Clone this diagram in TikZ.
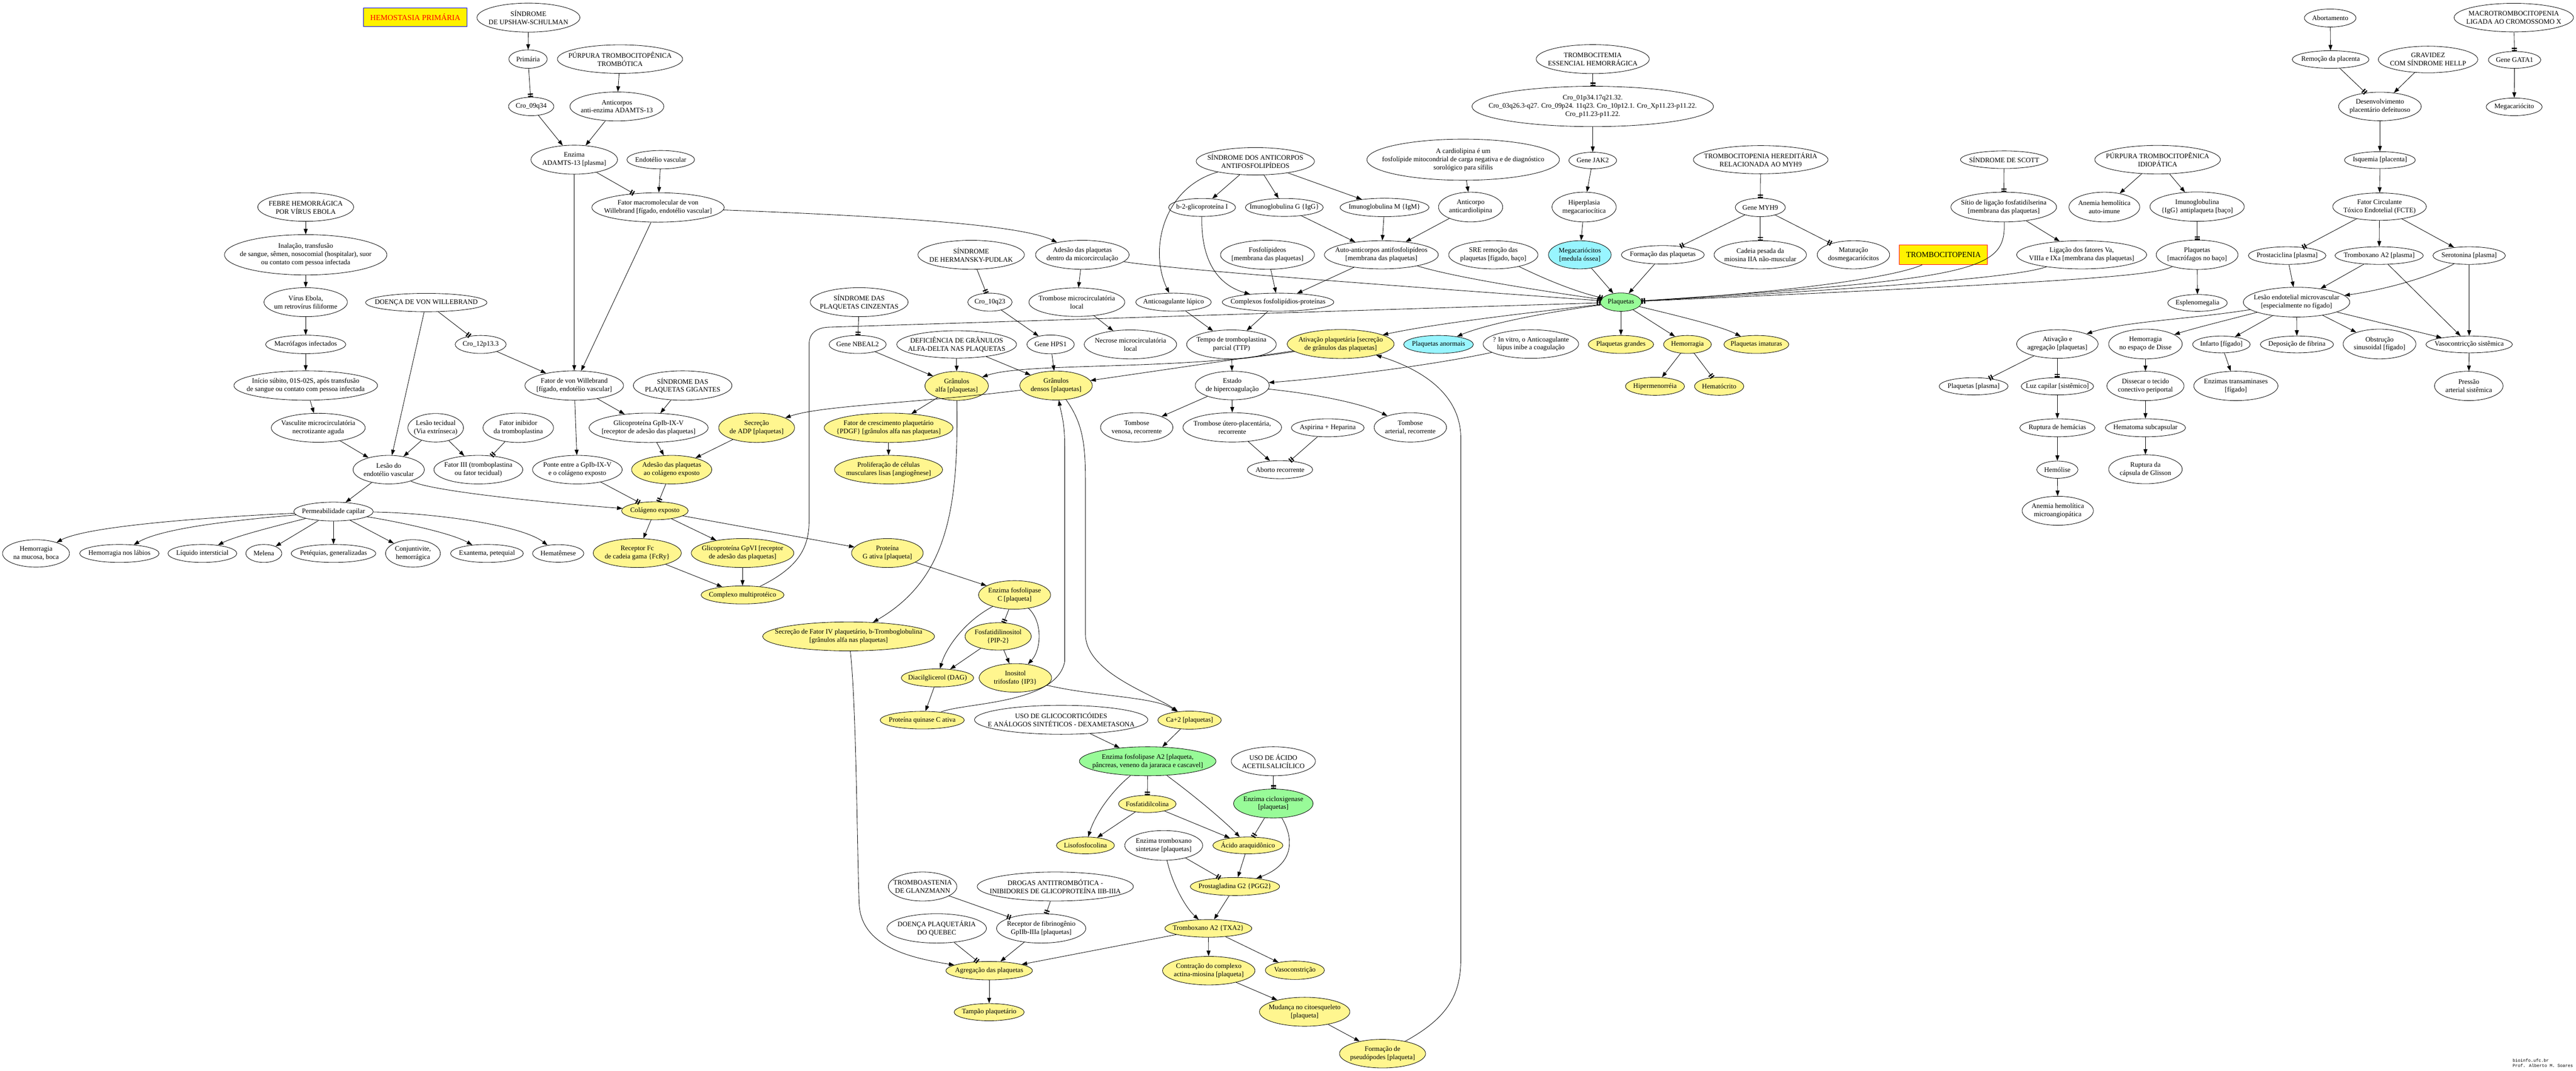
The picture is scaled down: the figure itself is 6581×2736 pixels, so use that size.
\documentclass[tikz,border=0pt]{standalone}
\usepackage{fontspec}
\setmainfont{Liberation Serif}
\newfontfamily\notefont{Liberation Mono}
\usetikzlibrary{shapes.geometric,arrows.meta}
\definecolor{khak}{HTML}{FFF68F}
\definecolor{pgrn}{HTML}{98FB98}
\definecolor{pcyn}{HTML}{98F5FF}
\newcommand{\nd}[7][nw]{\node[#1,minimum width=#5pt,minimum height=#6pt] (#2) at (#3,#4) {#7};}
\begin{document}
\begin{tikzpicture}[x=1pt,y=-1pt,
  base/.style={draw,line width=1.1pt,font=\fontsize{17.5}{21}\selectfont,align=center},
  nw/.style={base,ellipse,inner sep=-3000pt},
  ny/.style={nw,fill=khak},
  ng/.style={nw,fill=pgrn},
  nc/.style={nw,fill=pcyn},
  bx/.style={draw,rectangle,line width=1.1pt,fill=yellow,inner sep=0pt,font=\fontsize{20}{24}\selectfont},
  ar/.style={line width=1.1pt,-{Triangle[length=14pt,width=10pt]}},
  ttee/.style={line width=1.1pt,-{Rectangle[length=3pt,width=13pt,sep=3pt]Rectangle[length=3pt,width=13pt]}}]
\fill[white] (0,0) rectangle (6581,2736);
\useasboundingbox (0,0) rectangle (6581,2736);

% ---------- boxes
\node[bx,draw=blue,text=red,minimum width=264pt,minimum height=48pt] (hp) at (1061,44) {HEMOSTASIA PRIMÁRIA};
\node[bx,draw=red,minimum width=225pt,minimum height=50pt] (tcp) at (4965,651) {TROMBOCITOPENIA};

% ---------- left (Ebola, von Willebrand)
\nd{febre}{781}{529}{245}{73}{FEBRE HEMORRÁGICA\\POR VÍRUS EBOLA}
\nd{inal}{781}{651}{415}{103}{Inalação, transfusão\\de sangue, sêmen, nosocomial (hospitalar), suor\\ou contato com pessoa infectada}
\nd{virus}{781}{772}{213}{74}{Vírus Ebola,\\um retrovírus filiforme}
\nd{macro}{781}{880}{205}{47}{Macrófagos infectados}
\nd{inicio}{781}{985}{367}{75}{Início súbito, 01S-02S, após transfusão\\de sangue ou contato com pessoa infectada}
\nd{vasc}{813}{1093}{240}{74}{Vasculite microcirculatória\\necrotizante aguda}
\nd{dvw}{1089}{773}{310}{47}{DOENÇA DE VON WILLEBRAND}
\nd{cro12}{1228}{880}{130}{46}{Cro\_12p13.3}
\nd{lestec}{1113}{1093}{142}{73}{Lesão tecidual\\(Via extrínseca)}
\nd{fatinib}{1324}{1093}{180}{75}{Fator inibidor\\da tromboplastina}
\nd{lesend}{993}{1200}{182}{73}{Lesão do\\endotélio vascular}
\nd{f3}{1222}{1200}{227}{73}{Fator III (tromboplastina\\ou fator tecidual)}
\nd{perm}{852}{1307}{203}{48}{Permeabilidade capilar}
\nd{s1}{92}{1414}{171}{70}{Hemorragia\\na mucosa, boca}
\nd{s2}{305}{1414}{203}{46}{Hemorragia nos lábios}
\nd{s3}{517}{1414}{176}{46}{Líquido intersticial}
\nd{s4}{674}{1414}{92}{46}{Melena}
\nd{s5}{852}{1414}{216}{46}{Petéquias, generalizadas}
\nd{s6}{1055}{1414}{140}{70}{Conjuntivite,\\hemorrágica}
\nd{s7}{1244}{1414}{186}{46}{Exantema, petequial}
\nd{s8}{1426}{1414}{131}{45}{Hematêmese}

% ---------- upper left-middle
\nd{ups}{1350}{45}{263}{74}{SÍNDROME\\DE UPSHAW-SCHULMAN}
\nd{prim}{1349}{151}{98}{47}{Primária}
\nd{ptt}{1584}{151}{320}{73}{PÚRPURA TROMBOCITOPÊNICA\\TROMBÓTICA}
\nd{cro09}{1357}{272}{116}{47}{Cro\_09q34}
\nd{antic}{1576}{272}{240}{74}{Anticorpos\\anti-enzima ADAMTS-13}
\nd{adamts}{1467}{408}{221}{74}{Enzima\\ADAMTS-13 [plasma]}
\nd{endvasc}{1688}{408}{173}{47}{Endotélio vascular}
\nd{fmvw}{1681}{530}{338}{75}{Fator macromolecular de von\\Willebrand [fígado, endotélio vascular]}
\nd{fvw}{1467}{985}{252}{75}{Fator de von Willebrand\\{}[fígado, endotélio vascular]}
\nd{spg}{1744}{985}{252}{75}{SÍNDROME DAS\\PLAQUETAS GIGANTES}
\nd{gpib}{1657}{1093}{304}{75}{Glicoproteína GpIb-IX-V\\{}[receptor de adesão das plaquetas]}
\nd[ny]{adp}{1933}{1093}{194}{75}{Secreção\\de ADP [plaquetas]}
\nd[ny]{pdgf}{2270}{1093}{329}{75}{Fator de crescimento plaquetário\\\{PDGF\} [grânulos alfa nas plaquetas]}
\nd{ponte}{1475}{1200}{229}{73}{Ponte entre a GpIb-IX-V\\e o colágeno exposto}
\nd[ny]{adcol}{1716}{1200}{205}{73}{Adesão das plaquetas\\ao colágeno exposto}
\nd[ny]{prolif}{2270}{1200}{276}{73}{Proliferação de células\\musculares lisas [angiogênese]}
\nd[ny]{colag}{1673}{1305}{170}{46}{Colágeno exposto}
\nd[ny]{fc}{1628}{1413}{225}{74}{Receptor Fc\\de cadeia gama \{FcRy\}}
\nd[ny]{gpvi}{1897}{1413}{262}{74}{Glicoproteína GpVI [receptor\\de adesão das plaquetas]}
\nd[ny]{protg}{2267}{1413}{183}{74}{Proteína\\G ativa [plaqueta]}
\nd[ny]{compl}{1897}{1520}{212}{46}{Complexo multiprotéico}
\nd[ny]{f4}{2168}{1626}{439}{74}{Secreção de Fator IV plaquetário, b-Tromboglobulina\\{}[grânulos alfa nas plaquetas]}
\nd[ny]{plc}{2592}{1520}{184}{73}{Enzima fosfolipase\\C [plaqueta]}
\nd[ny]{pip2}{2550}{1626}{169}{70}{Fosfatidilinositol\\\{PIP-2\}}
\nd[ny]{ip3}{2594}{1732}{185}{73}{Inositol\\trifosfato \{IP3\}}
\nd[ny]{dag}{2395}{1732}{185}{46}{Diacilglicerol (DAG)}
\nd[ny]{pkc}{2356}{1840}{215}{45}{Proteína quinase C ativa}
\nd{nbeal}{2191}{880}{146}{46}{Gene NBEAL2}
\nd{defic}{2444}{880}{306}{70}{DEFICIÊNCIA DE GRÂNULOS\\ALFA-DELTA NAS PLAQUETAS}
\nd[ny]{galfa}{2444}{986}{162}{74}{Grânulos\\alfa [plaquetas]}
\nd{cinz}{2195}{772}{250}{74}{SÍNDROME DAS\\PLAQUETAS CINZENTAS}
\nd{hps}{2481}{651}{272}{74}{SÍNDROME\\DE HERMANSKY-PUDLAK}
\nd{admic}{2765}{651}{239}{74}{Adesão das plaquetas\\dentro da micorcirculação}
\nd{cro10}{2529}{772}{113}{46}{Cro\_10q23}
\nd{tmic}{2751}{772}{245}{73}{Trombose microcirculatória\\local}
\nd{hps1}{2684}{880}{121}{48}{Gene HPS1}
\nd{nmic}{2888}{880}{236}{74}{Necrose microcirculatória\\local}
\nd[ny]{gdens}{2698}{985}{185}{74}{Grânulos\\densos [plaquetas]}

% ---------- antiphospholipid & centre
\nd{saaf}{3207}{412}{302}{70}{SÍNDROME DOS ANTICORPOS\\ANTIFOSFOLIPÍDEOS}
\nd{b2}{3071}{530}{171}{46}{b-2-glicoproteína I}
\nd{igg}{3281}{530}{199}{46}{Imunoglobulina G \{IgG\}}
\nd{igm}{3537}{530}{227}{47}{Imunoglobulina M \{IgM\}}
\nd{fosfl}{3238}{651}{240}{74}{Fosfolípideos\\{}[membrana das plaquetas]}
\nd{autoac}{3529}{651}{291}{72}{Auto-anticorpos antifosfolipídeos\\{}[membrana das plaquetas]}
\nd{cardio}{3738}{408}{492}{105}{A cardiolipina é um\\fosfolípide mitocondrial de carga negativa e de diagnóstico\\sorológico para sífilis}
\nd{acard}{3757}{529}{164}{76}{Anticorpo\\anticardiolipina}
\nd{sre}{3815}{651}{228}{72}{SRE remoção das\\plaquetas [fígado, baço]}
\nd[nc]{mega}{4036}{651}{160}{72}{Megacariócitos\\{}[medula óssea]}
\nd{hiper}{4047}{529}{164}{76}{Hiperplasia\\megacariocítica}
\nd{jak2}{4069}{410}{122}{42}{Gene JAK2}
\nd{cro01}{4069}{272}{617}{103}{Cro\_01p34.17q21.32.\\Cro\_03q26.3-q27. Cro\_09p24. 11q23. Cro\_10p12.1. Cro\_Xp11.23-p11.22.\\Cro\_p11.23-p11.22.}
\nd{tromb}{4069}{151}{289}{74}{TROMBOCITEMIA\\ESSENCIAL HEMORRÁGICA}
\nd{lup}{2998}{772}{193}{46}{Anticoagulante lúpico}
\nd{cfp}{3265}{772}{285}{46}{Complexos fosfolipídios-proteínas}
\nd{ttp}{3146}{880}{229}{74}{Tempo de tromboplastina\\parcial (TTP)}
\nd[ny]{ativ}{3425}{879}{273}{74}{Ativação plaquetária [secreção\\de grânulos das plaquetas]}
\nd{estado}{3148}{985}{189}{73}{Estado\\de hipercoagulação}
\nd[nc]{panorm}{3675}{880}{178}{46}{Plaquetas anormais}
\nd{invitro}{3911}{879}{244}{73}{? In vitro, o Anticoagulante\\lúpus inibe a coagulação}
\nd[ng]{plaq}{4141}{772}{105}{47}{Plaquetas}
\nd[ny]{pgr}{4141}{880}{167}{46}{Plaquetas grandes}
\nd[ny]{hemor}{4311}{880}{122}{46}{Hemorragia}
\nd[ny]{hiperm}{4228}{987}{151}{46}{Hipermenorréia}
\nd[ny]{hemat}{4392}{987}{126}{46}{Hematócrito}
\nd[ny]{pimat}{4487}{880}{166}{46}{Plaquetas imaturas}
\nd{formp}{4248}{651}{212}{47}{Formação das plaquetas}
\nd{cadeia}{4497}{651}{236}{72}{Cadeia pesada da\\miosina IIA não-muscular}
\nd{matur}{4735}{651}{185}{72}{Maturação\\dosmegacariócitos}
\nd{myh9}{4497}{530}{128}{47}{Gene MYH9}
\nd{trher}{4498}{408}{344}{72}{TROMBOCITOPENIA HEREDITÁRIA\\RELACIONADA AO MYH9}

% ---------- right
\nd{scott}{5120}{408}{223}{45}{SÍNDROME DE SCOTT}
\nd{sitio}{5119}{529}{270}{76}{Sítio de ligação fosfatidilserina\\{}[membrana das plaquetas]}
\nd{ligac}{5318}{651}{332}{72}{Ligação dos fatores Va,\\VIIIa e IXa [membrana das plaquetas]}
\nd{ahai}{5376}{529}{181}{76}{Anemia hemolítica\\auto-imune}
\nd{pti}{5512}{408}{321}{73}{PÚRPURA TROMBOCITOPÊNICA\\IDIOPÁTICA}
\nd{iggap}{5613}{528}{241}{75}{Imunoglobulina\\\{IgG\} antiplaqueta [baço]}
\nd{pmac}{5613}{651}{209}{75}{Plaquetas\\{}[macrófagos no baço]}
\nd{esplen}{5614}{774}{152}{43}{Esplenomegalia}
\nd{abort}{5953}{46}{132}{46}{Abortamento}
\nd{remoc}{5954}{152}{196}{45}{Remoção da placenta}
\nd{grav}{6203}{152}{254}{68}{GRAVIDEZ\\COM SÍNDROME HELLP}
\nd{macrox}{6422}{45}{305}{73}{MACROTROMBOCITOPENIA\\LIGADA AO CROMOSSOMO X}
\nd{gata}{6424}{153}{134}{43}{Gene GATA1}
\nd{megac}{6423}{273}{143}{45}{Megacariócito}
\nd{desenv}{6080}{272}{211}{73}{Desenvolvimento\\placentário defeituoso}
\nd{isq}{6080}{409}{181}{43}{Isquemia [placenta]}
\nd{fcte}{6079}{528}{239}{70}{Fator Circulante\\Tóxico Endotelial (FCTE)}
\nd{prost}{5843}{653}{198}{45}{Prostaciclina [plasma]}
\nd{txa}{6078}{653}{225}{45}{Tromboxano A2 [plasma]}
\nd{serot}{6308}{653}{185}{45}{Serotonina [plasma]}
\nd{lesmv}{5867}{772}{272}{76}{Lesão endotelial microvascular\\{}[especialmente no fígado]}
\nd{hdisse}{5481}{879}{188}{76}{Hemorragia\\no espaço de Disse}
\nd{infarto}{5675}{880}{147}{43}{Infarto [fígado]}
\nd{fibr}{5868}{880}{187}{43}{Deposição de fibrina}
\nd{obstr}{6079}{879}{186}{76}{Obstrução\\sinusoidal [fígado]}
\nd{vasoc}{6308}{880}{221}{43}{Vasocontricção sistêmica}
\nd{dissec}{5481}{986}{197}{75}{Dissecar o tecido\\conectivo periportal}
\nd{transam}{5712}{986}{215}{75}{Enzimas transaminases\\{}[fígado]}
\nd{pressao}{6307}{986}{175}{75}{Pressão\\arterial sistêmica}
\nd{hemsub}{5481}{1093}{205}{46}{Hematoma subcapsular}
\nd{glisson}{5481}{1199}{188}{74}{Ruptura da\\cápsula de Glisson}
\nd{atag}{5256}{879}{208}{73}{Ativação e\\agregação [plaquetas]}
\nd{pplasma}{5042}{987}{176}{44}{Plaquetas [plasma]}
\nd{luz}{5256}{987}{185}{44}{Luz capilar [sistêmico]}
\nd{rupt}{5256}{1093}{192}{46}{Ruptura de hemácias}
\nd{hemol}{5256}{1200}{105}{44}{Hemólise}
\nd{ahm}{5257}{1305}{182}{74}{Anemia hemolítica\\microangiopática}

% ---------- bottom
\nd{tvenosa}{2904}{1092}{185}{75}{Tombose\\venosa, recorrente}
\nd{tutero}{3148}{1092}{252}{75}{Trombose útero-placentária,\\recorrente}
\nd{asphep}{3392}{1093}{186}{46}{Aspirina + Heparina}
\nd{tart}{3603}{1092}{185}{75}{Tombose\\arterial, recorrente}
\nd{aborto}{3270}{1200}{167}{46}{Aborto recorrente}
\nd{gluco}{2711}{1839}{443}{74}{USO DE GLICOCORTICÓIDES\\E ANÁLOGOS SINTÉTICOS - DEXAMETASONA}
\nd[ny]{ca}{3039}{1840}{162}{46}{Ca+2 [plaquetas]}
\nd[ng]{pla2}{2932}{1945}{349}{74}{Enzima fosfolipase A2 [plaqueta,\\pâncreas, veneno da jararaca e cascavel]}
\nd{aas}{3253}{1945}{215}{74}{USO DE ÁCIDO\\ACETILSALICÍLICO}
\nd[ny]{fcol}{2931}{2054}{147}{44}{Fosfatidilcolina}
\nd[ng]{cox}{3253}{2053}{203}{74}{Enzima cicloxigenase\\{}[plaquetas]}
\nd[ny]{liso}{2773}{2160}{148}{43}{Lisofosfocolina}
\nd{txs}{2973}{2160}{199}{76}{Enzima tromboxano\\sintetase [plaquetas]}
\nd[ny]{araq}{3188}{2160}{179}{43}{Ácido araquidônico}
\nd{glanz}{2357}{2265}{175}{74}{TROMBOASTENIA\\DE GLANZMANN}
\nd{drogas}{2696}{2265}{399}{74}{DROGAS ANTITROMBÓTICA -\\INIBIDORES DE GLICOPROTEÍNA IIB-IIIA}
\nd{quebec}{2393}{2372}{254}{75}{DOENÇA PLAQUETÁRIA\\DO QUEBEC}
\nd{recfib}{2660}{2372}{228}{75}{Receptor de fibrinogênio\\GpIIb-IIIa [plaquetas]}
\nd[ny]{agreg}{2527}{2480}{221}{47}{Agregação das plaquetas}
\nd[ny]{tampao}{2527}{2586}{179}{44}{Tampão plaquetário}
\nd[ny]{pgg2}{3155}{2265}{228}{46}{Prostagladina G2 \{PGG2\}}
\nd[ny]{txa2}{3087}{2372}{222}{45}{Tromboxano A2 \{TXA2\}}
\nd[ny]{contr}{3088}{2480}{236}{73}{Contração do complexo\\actina-miosina [plaqueta]}
\nd[ny]{vasoco}{3308}{2479}{151}{47}{Vasoconstrição}
\nd[ny]{mudanca}{3333}{2585}{231}{74}{Mudança no citoesqueleto\\{}[plaqueta]}
\nd[ny]{pseudo}{3532}{2692}{220}{73}{Formação de\\pseudópodes [plaqueta]}
\node[anchor=west,align=left,inner sep=0pt,font=\notefont\fontsize{11}{13}\selectfont] (note) at (6419,2716) {bioinfo.ufc.br\\Prof. Alberto M. Soares};

% ================= EDGES
% left
\draw[ar] (febre) -- (inal);
\draw[ar] (inal) -- (virus);
\draw[ar] (virus) -- (macro);
\draw[ar] (macro) -- (inicio);
\draw[ar] (inicio) -- (vasc);
\draw[ar] (vasc) -- (lesend);
\draw[ar] (dvw) -- (lesend);
\draw[ttee] (dvw) -- (cro12);
\draw[ar] (cro12) -- (fvw);
\draw[ar] (lestec) -- (lesend);
\draw[ar] (lestec) -- (f3);
\draw[ttee] (fatinib) -- (f3);
\draw[ar] (lesend) -- (perm);
\draw[ar] (lesend) .. controls (1100,1255) and (1400,1285) .. (colag);
\draw[ar] (perm) .. controls (600,1318) and (230,1340) .. (s1);
\draw[ar] (perm) .. controls (650,1325) and (420,1345) .. (s2);
\draw[ar] (perm) .. controls (720,1340) and (600,1370) .. (s3);
\draw[ar] (perm) -- (s4);
\draw[ar] (perm) -- (s5);
\draw[ar] (perm) -- (s6);
\draw[ar] (perm) .. controls (1000,1330) and (1150,1360) .. (s7);
\draw[ar] (perm) .. controls (1100,1310) and (1330,1340) .. (s8);
% upper left-middle
\draw[ar] (ups) -- (prim);
\draw[ttee] (prim) -- (cro09);
\draw[ar] (ptt) -- (antic);
\draw[ar] (cro09) -- (adamts);
\draw[ar] (antic) -- (adamts);
\draw[ttee] (adamts) -- (fmvw);
\draw[ar] (endvasc) -- (fmvw);
\draw[ar] (adamts) -- (fvw);
\draw[ar] (fmvw) -- (fvw);
\draw[ar] (fmvw) .. controls (2200,550) and (2600,570) .. (admic);
\draw[ar] (fvw) -- (gpib);
\draw[ar] (fvw) -- (ponte);
\draw[ar] (spg) -- (gpib);
\draw[ar] (gpib) -- (adcol);
\draw[ar] (adp) -- (adcol);
\draw[ttee] (ponte) -- (colag);
\draw[ttee] (adcol) -- (colag);
\draw[ar] (colag) -- (fc);
\draw[ar] (colag) -- (gpvi);
\draw[ar] (colag) -- (protg);
\draw[ar] (fc) -- (compl);
\draw[ar] (gpvi) -- (compl);
\draw[ttee] (compl) .. controls (2040,1450) and (2067,1400) .. (2067,1330) -- (2067,880) .. controls (2067,852) and (2085,838) .. (2115,836) -- (plaq);
\draw[ar] (protg) -- (plc);
\draw[ar] (galfa) -- (pdgf);
\draw[ar] (pdgf) -- (prolif);
\draw[ar] (galfa) .. controls (2449,1300) and (2420,1480) .. (f4);
\draw[ar] (gdens) .. controls (2350,1030) and (2100,1035) .. (adp);
\draw[ttee] (plc) -- (pip2);
\draw[ar] (plc) .. controls (2665,1590) and (2660,1660) .. (ip3);
\draw[ar] (plc) .. controls (2460,1590) and (2415,1660) .. (dag);
\draw[ar] (pip2) -- (ip3);
\draw[ar] (pip2) -- (dag);
\draw[ar] (dag) -- (pkc);
\draw[ar] (pkc) .. controls (2460,1795) and (2700,1800) .. (2720,1690) -- (2720,1140) .. controls (2720,1080) and (2712,1060) .. (gdens);
\draw[ar] (gdens) .. controls (2765,1080) and (2773,1130) .. (2773,1230) -- (2773,1620) .. controls (2773,1720) and (2950,1775) .. (ca);
\draw[ar] (ip3) .. controls (2800,1780) and (2950,1780) .. (ca);
\draw[ar] (f4) .. controls (2188,1800) and (2190,2200) .. (2195,2310) .. controls (2200,2420) and (2330,2448) .. (agreg);
\draw[ttee] (cinz) -- (nbeal);
\draw[ar] (nbeal) -- (galfa);
\draw[ar] (defic) -- (galfa);
\draw[ar] (defic) -- (gdens);
\draw[ttee] (hps) -- (cro10);
\draw[ar] (cro10) -- (hps1);
\draw[ar] (hps1) -- (gdens);
\draw[ar] (admic) -- (tmic);
\draw[ar] (tmic) -- (nmic);
% antiphospholipid & centre
\draw[ar] (saaf) -- (b2);
\draw[ar] (saaf) -- (igg);
\draw[ar] (saaf) -- (igm);
\draw[ar] (saaf) .. controls (2970,480) and (2935,640) .. (lup);
\draw[ar] (b2) .. controls (3068,650) and (3100,725) .. (cfp);
\draw[ar] (igg) -- (autoac);
\draw[ar] (igm) -- (autoac);
\draw[ar] (acard) -- (autoac);
\draw[ar] (cardio) -- (acard);
\draw[ar] (fosfl) -- (cfp);
\draw[ar] (autoac) -- (cfp);
\draw[ar] (lup) -- (ttp);
\draw[ar] (cfp) -- (ttp);
\draw[ar] (ttp) -- (estado);
\draw[ar] (estado) -- (tvenosa);
\draw[ar] (estado) -- (tutero);
\draw[ar] (estado) .. controls (3350,1005) and (3480,1030) .. (tart);
\draw[ar] (tutero) -- (aborto);
\draw[ttee] (asphep) -- (aborto);
\draw[ar] (invitro) .. controls (3650,935) and (3400,965) .. (estado);
\draw[ar] (ativ) .. controls (3000,948) and (2620,925) .. (galfa);
\draw[ar] (ativ) -- (gdens);
% platelets hub
\draw[ttee] (tromb) -- (cro01);
\draw[ar] (cro01) -- (jak2);
\draw[ar] (jak2) -- (hiper);
\draw[ar] (hiper) -- (mega);
\draw[ar] (mega) -- (plaq);
\draw[ar] (formp) -- (plaq);
\draw[ttee] (trher) -- (myh9);
\draw[ttee] (myh9) -- (formp);
\draw[ttee] (myh9) -- (cadeia);
\draw[ttee] (myh9) -- (matur);
\draw[ar] (plaq) -- (pgr);
\draw[ar] (plaq) -- (hemor);
\draw[ar] (hemor) -- (hiperm);
\draw[ttee] (hemor) -- (hemat);
\draw[ar] (plaq) .. controls (4300,810) and (4400,835) .. (pimat);
\draw[ar] (plaq) .. controls (3850,805) and (3650,830) .. (ativ);
\draw[ar] (plaq) .. controls (3900,805) and (3780,835) .. (panorm);
\draw[ttee] (sre) .. controls (3900,690) and (4000,740) .. (plaq);
\draw[ttee] (autoac) .. controls (3720,710) and (3950,745) .. (plaq);
\draw[ttee] (admic) .. controls (3000,690) and (3700,740) .. (plaq);
\draw[ttee] (tcp) .. controls (4850,705) and (4600,745) .. (plaq);
\draw[ttee] (sitio) .. controls (5124,690) and (5060,712) .. (plaq);
\draw[ttee] (ligac) .. controls (5160,705) and (4900,730) .. (plaq);
\draw[ttee] (pmac) .. controls (5500,705) and (5300,720) .. (plaq);
% right
\draw[ttee] (scott) -- (sitio);
\draw[ar] (sitio) -- (ligac);
\draw[ar] (pti) -- (ahai);
\draw[ar] (pti) -- (iggap);
\draw[ttee] (iggap) -- (pmac);
\draw[ar] (pmac) -- (esplen);
\draw[ar] (abort) -- (remoc);
\draw[ttee] (remoc) -- (desenv);
\draw[ar] (grav) -- (desenv);
\draw[ttee] (macrox) -- (gata);
\draw[ar] (gata) -- (megac);
\draw[ar] (desenv) -- (isq);
\draw[ar] (isq) -- (fcte);
\draw[ttee] (fcte) -- (prost);
\draw[ar] (fcte) -- (txa);
\draw[ar] (fcte) -- (serot);
\draw[ar] (prost) -- (lesmv);
\draw[ar] (txa) -- (lesmv);
\draw[ar] (serot) .. controls (6200,712) and (6080,742) .. (lesmv);
\draw[ar] (txa) -- (vasoc);
\draw[ar] (serot) -- (vasoc);
\draw[ar] (lesmv) .. controls (5700,815) and (5600,840) .. (hdisse);
\draw[ar] (lesmv) -- (infarto);
\draw[ar] (lesmv) -- (fibr);
\draw[ar] (lesmv) -- (obstr);
\draw[ar] (lesmv) -- (vasoc);
\draw[ar] (hdisse) -- (dissec);
\draw[ar] (dissec) -- (hemsub);
\draw[ar] (hemsub) -- (glisson);
\draw[ar] (infarto) -- (transam);
\draw[ar] (vasoc) -- (pressao);
\draw[ar] (lesmv) .. controls (5600,815) and (5420,822) .. (atag);
\draw[ttee] (atag) -- (pplasma);
\draw[ttee] (atag) -- (luz);
\draw[ar] (luz) -- (rupt);
\draw[ar] (rupt) -- (hemol);
\draw[ar] (hemol) -- (ahm);
% bottom
\draw[ar] (gluco) -- (pla2);
\draw[ar] (ca) -- (pla2);
\draw[ttee] (pla2) -- (fcol);
\draw[ar] (pla2) .. controls (2830,2030) and (2795,2090) .. (liso);
\draw[ar] (pla2) .. controls (3060,2040) and (3130,2100) .. (araq);
\draw[ar] (fcol) -- (liso);
\draw[ar] (fcol) -- (araq);
\draw[ttee] (aas) -- (cox);
\draw[ttee] (cox) -- (araq);
\draw[ar] (cox) .. controls (3310,2150) and (3300,2210) .. (pgg2);
\draw[ar] (araq) -- (pgg2);
\draw[ttee] (txs) -- (pgg2);
\draw[ar] (txs) .. controls (2995,2260) and (3030,2320) .. (txa2);
\draw[ar] (pgg2) -- (txa2);
\draw[ar] (txa2) -- (agreg);
\draw[ar] (txa2) -- (contr);
\draw[ar] (txa2) -- (vasoco);
\draw[ar] (contr) -- (mudanca);
\draw[ar] (mudanca) -- (pseudo);
\draw[ar] (pseudo) .. controls (3700,2600) and (3732,2540) .. (3732,2450) -- (3732,1120) .. controls (3732,1000) and (3620,940) .. (ativ);
\draw[ttee] (glanz) -- (recfib);
\draw[ttee] (drogas) -- (recfib);
\draw[ttee] (quebec) -- (agreg);
\draw[ar] (recfib) -- (agreg);
\draw[ar] (agreg) -- (tampao);
\end{tikzpicture}
\end{document}
